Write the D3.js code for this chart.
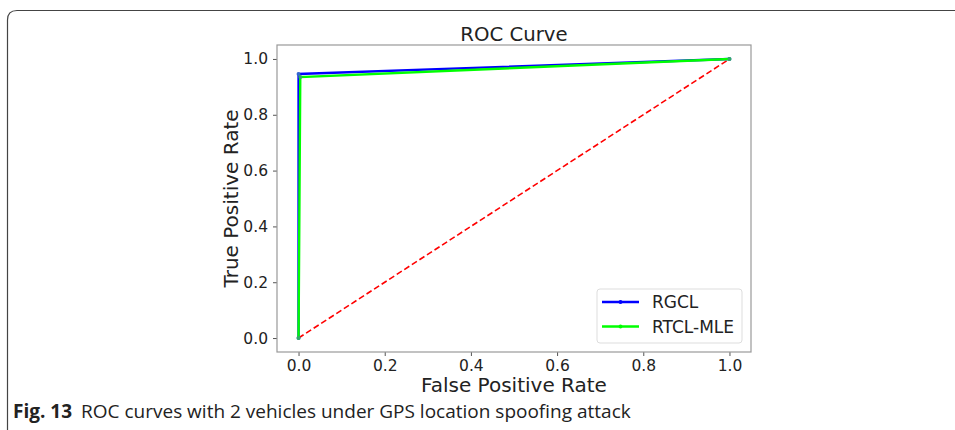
<!DOCTYPE html>
<html>
<head>
<meta charset="utf-8">
<script src="https://cdn.jsdelivr.net/npm/d3@7"></script>
<style>
  body { margin: 0; background: #fff; }
  svg { display: block; }
</style>
</head>
<body>
<svg id="drawing_region"></svg>
<script>
// ROC points
const seriesNames = ["RGCL", "RTCL-MLE"];
const seriesColors = ["#0000ff", "#00ff00"];
const rgclFpr = [0, 0, 1];
const rgclTpr = [0, 0.946, 1];
const rtclFpr = [0, 0.004, 1];
const rtclTpr = [0, 0.935, 1];
const chanceFpr = [0, 1];
const chanceTpr = [0, 1];
const tickValues = [0, 0.2, 0.4, 0.6, 0.8, 1.0];

const config = {
    width: 955,
    height: 430,
    margin: {top: 45, right: 204, bottom: 78, left: 277}
};

const svg = d3.select('#drawing_region')
    .attr('width', config.width)
    .attr('height', config.height);

// outer figure frame with rounded top-left corner
svg.append('path')
    .attr('d', 'M7.5,440 L7.5,20 Q7.5,10.5 17,10.5 L965,10.5')
    .attr('fill', 'none')
    .attr('stroke', '#444')
    .attr('stroke-width', 1.2);

const inner_width = config.width - config.margin.left - config.margin.right;
const inner_height = config.height - config.margin.top - config.margin.bottom;

const xscale = d3.scaleLinear().domain([-0.05, 1.05]).range([0, inner_width]);
const yscale = d3.scaleLinear().domain([-0.05, 1.05]).range([inner_height, 0]);

const chart = svg.append('g')
    .attr('transform', `translate(${config.margin.left}, ${config.margin.top})`);

const fmt = d3.format('.1f');
const xaxis = d3.axisBottom(xscale).tickValues(tickValues).tickFormat(fmt).tickSizeOuter(0).tickSize(4).tickPadding(4);
const yaxis = d3.axisLeft(yscale).tickValues(tickValues).tickFormat(fmt).tickSizeOuter(0).tickSize(4).tickPadding(5);

const xg = chart.append('g').attr('transform', `translate(0, ${inner_height})`).call(xaxis);
const yg = chart.append('g').call(yaxis);
[xg, yg].forEach(g => {
    g.select('.domain').remove();
    g.selectAll('line').attr('stroke', '#555');
    g.selectAll('text').attr('font-family', 'DejaVu Sans').attr('font-size', 15.5).attr('fill', '#222');
});

const line = d3.line().x(d => xscale(d[0])).y(d => yscale(d[1]));

// chance diagonal
chart.append('path')
    .attr('d', line(d3.zip(chanceFpr, chanceTpr)))
    .attr('fill', 'none')
    .attr('stroke', '#ff0000')
    .attr('stroke-width', 1.6)
    .attr('stroke-dasharray', '6,3');

const series = [d3.zip(rgclFpr, rgclTpr), d3.zip(rtclFpr, rtclTpr)];
series.forEach((pts, i) => {
    chart.append('path')
        .attr('d', line(pts))
        .attr('fill', 'none')
        .attr('stroke', seriesColors[i])
        .attr('stroke-width', 2.4);
    chart.selectAll('.m' + i)
        .data(pts)
        .enter()
        .append('circle')
        .attr('class', 'm' + i)
        .attr('cx', d => xscale(d[0]))
        .attr('cy', d => yscale(d[1]))
        .attr('r', 2)
        .attr('fill', i === 0 ? '#3366cc' : '#33aa66');
});

// spines
chart.append('rect')
    .attr('width', inner_width)
    .attr('height', inner_height)
    .attr('fill', 'none')
    .attr('stroke', '#999')
    .attr('stroke-width', 1.2);

// legend
const leg = chart.append('g').attr('transform', `translate(${inner_width - 154}, ${inner_height - 63})`);
leg.append('rect')
    .attr('width', 145).attr('height', 54).attr('rx', 3)
    .attr('fill', '#fff').attr('stroke', '#ddd');
seriesNames.forEach((name, i) => {
    const y = 13 + i * 24.5;
    leg.append('line').attr('x1', 5).attr('x2', 42).attr('y1', y).attr('y2', y)
        .attr('stroke', seriesColors[i]).attr('stroke-width', 2.4);
    leg.append('circle').attr('cx', 23.5).attr('cy', y).attr('r', 2).attr('fill', seriesColors[i]);
    leg.append('text').attr('x', 55).attr('y', y + 6)
        .attr('font-family', 'DejaVu Sans').attr('font-size', 17).attr('fill', '#222')
        .text(name);
});

// titles
svg.append('text')
    .attr('x', config.margin.left + inner_width / 2).attr('y', 41)
    .attr('text-anchor', 'middle')
    .attr('font-family', 'DejaVu Sans').attr('font-size', 19.7).attr('fill', '#222')
    .text('ROC Curve');

svg.append('text')
    .attr('x', config.margin.left + inner_width / 2).attr('y', 392)
    .attr('text-anchor', 'middle')
    .attr('font-family', 'DejaVu Sans').attr('font-size', 20).attr('fill', '#222')
    .text('False Positive Rate');

svg.append('text')
    .attr('transform', `translate(238, ${config.margin.top + inner_height / 2}) rotate(-90)`)
    .attr('text-anchor', 'middle')
    .attr('font-family', 'DejaVu Sans').attr('font-size', 20).attr('fill', '#222')
    .text('True Positive Rate');

// caption
const cap = svg.append('text')
    .attr('x', 13).attr('y', 418)
    .attr('font-family', 'Open Sans').attr('font-size', 19).attr('fill', '#222');
cap.append('tspan').attr('font-weight', 'bold').text('Fig. 13');
cap.append('tspan').attr('dx', 9).text('ROC curves with 2 vehicles under GPS location spoofing attack');
</script>
</body>
</html>
